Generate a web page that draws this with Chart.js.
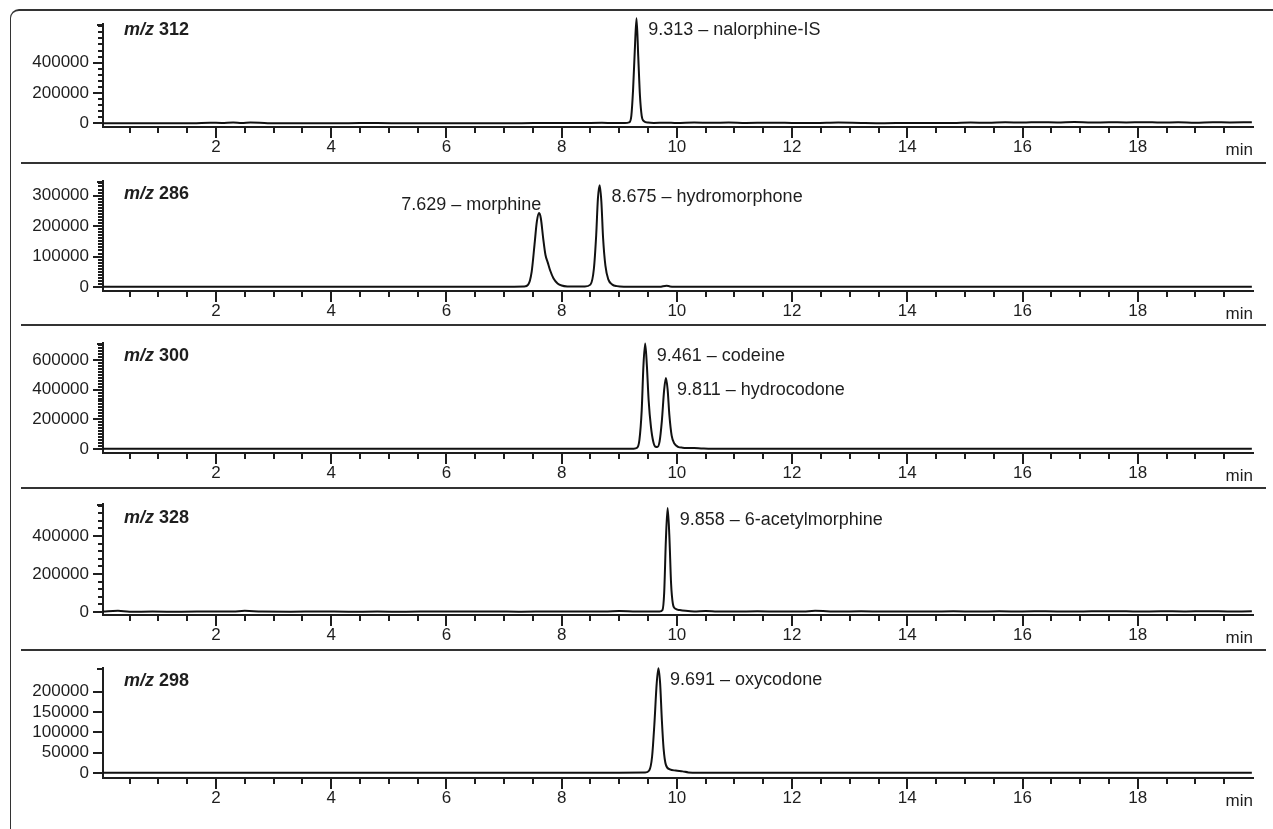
<!DOCTYPE html>
<html>
<head>
<meta charset="utf-8">
<script src="https://cdn.jsdelivr.net/npm/chart.js@4.4.0/dist/chart.umd.min.js"></script>
<style>
  body { margin: 0; background: #fff; width: 1273px; height: 829px; overflow: hidden; position: relative; }
  .frame { position: absolute; left: 10px; top: 9px; width: 1290px; height: 850px;
           border-left: 1.5px solid #333; border-top: 2px solid #333; border-top-left-radius: 9px; }
  .sep { position: absolute; left: 21px; width: 1245px; height: 2px; background: #333; }
  canvas { position: absolute; left: 0; }
</style>
</head>
<body>
<div class="frame"></div>
<div class="sep" style="top:162px"></div>
<div class="sep" style="top:324px"></div>
<div class="sep" style="top:487px"></div>
<div class="sep" style="top:649px"></div>

<script>
// retention time axis (min)
const xTicks = [2, 4, 6, 8, 10, 12, 14, 16, 18];

// m/z 312
const p1Time = [0.04, 0.4, 0.8, 1.2, 1.6, 1.9, 2.1, 2.3, 2.45, 2.6, 2.9, 3.3, 3.8, 4.3, 4.8, 5.3, 5.8, 6.3, 6.8, 7.3,
  7.8, 8.3, 8.7, 8.9, 9.1, 9.17, 9.21, 9.24, 9.27, 9.30, 9.33, 9.36, 9.39, 9.43, 9.5, 9.6, 9.8, 10.0, 10.3, 10.6,
  10.9, 11.2, 11.6, 12.0, 12.4, 12.8, 13.2, 13.6, 14.0, 14.4, 14.8, 15.1, 15.4, 15.7, 16.0, 16.3, 16.6, 16.9, 17.2, 17.5,
  17.8, 18.1, 18.4, 18.7, 19.0, 19.3, 19.6, 19.98];
const p1Signal = [1000, 1500, 800, 1200, 1000, 4000, 2500, 6000, 3000, 5500, 1500, 1000, 800, 1200, 2000, 900, 1100, 1500, 1000, 1300,
  2500, 1800, 3500, 2000, 2000, 6000, 50000, 220000, 480000, 693000, 440000, 180000, 50000, 14000, 5000, 3000, 4500, 2000, 5000, 3500,
  6000, 2500, 4000, 3000, 2000, 5500, 3000, 1500, 3000, 2000, 2500, 5000, 4000, 7000, 5500, 8000, 6000, 8500, 5000, 7500,
  6000, 8000, 5000, 7500, 4500, 8000, 6000, 7000];
const p1Ticks = [0, 200000, 400000];
const p1PeakRt = [9.313];
const p1PeakName = ['nalorphine-IS'];

// m/z 286
const p2Time = [0.04, 0.6, 1.2, 1.8, 2.4, 3.0, 3.6, 4.2, 4.8, 5.4, 6.0, 6.6, 7.0, 7.35, 7.42, 7.48, 7.53, 7.57, 7.61, 7.64,
  7.68, 7.72, 7.76, 7.80, 7.86, 7.93, 8.00, 8.10, 8.25, 8.40, 8.50, 8.56, 8.60, 8.63, 8.66, 8.69, 8.72, 8.76, 8.81, 8.88,
  8.96, 9.10, 9.40, 9.70, 9.82, 9.88, 9.95, 10.2, 10.8, 11.4, 12.0, 12.6, 13.2, 13.8, 14.4, 15.0, 15.6, 16.2, 16.8, 17.4,
  18.0, 18.6, 19.2, 19.98];
const p2Signal = [800, 600, 900, 700, 800, 600, 700, 900, 600, 800, 700, 900, 1000, 2000, 8000, 50000, 140000, 215000, 243000, 225000,
  160000, 105000, 80000, 55000, 28000, 12000, 5000, 2000, 1500, 2000, 8000, 60000, 170000, 290000, 334000, 280000, 160000, 70000, 25000, 8000,
  3000, 1200, 800, 1000, 4500, 2000, 900, 700, 800, 600, 900, 700, 800, 600, 700, 900, 700, 800, 600, 900,
  700, 800, 700, 800];
const p2Ticks = [0, 100000, 200000, 300000];
const p2PeakRt = [7.629, 8.675];
const p2PeakName = ['morphine', 'hydromorphone'];

// m/z 300
const p3Time = [0.04, 0.7, 1.4, 2.1, 2.8, 3.5, 4.2, 4.9, 5.6, 6.3, 7.0, 7.7, 8.4, 9.0, 9.25, 9.31, 9.35, 9.39, 9.42, 9.45,
  9.48, 9.51, 9.55, 9.59, 9.63, 9.66, 9.70, 9.74, 9.78, 9.81, 9.84, 9.87, 9.91, 9.96, 10.02, 10.10, 10.20, 10.30, 10.45, 10.60,
  11.0, 11.7, 12.4, 13.1, 13.8, 14.5, 15.2, 15.9, 16.6, 17.3, 18.0, 18.7, 19.4, 19.98];
const p3Signal = [1000, 800, 1200, 900, 1000, 800, 1100, 900, 1000, 800, 1000, 900, 1100, 1200, 2000, 8000, 60000, 260000, 560000, 710000,
  560000, 330000, 150000, 50000, 15000, 14000, 50000, 190000, 400000, 478000, 400000, 230000, 90000, 35000, 15000, 9000, 7000, 6000, 3000, 1200,
  1000, 900, 1100, 800, 1000, 900, 1000, 800, 1100, 900, 1000, 800, 1000, 900];
const p3Ticks = [0, 200000, 400000, 600000];
const p3PeakRt = [9.461, 9.811];
const p3PeakName = ['codeine', 'hydrocodone'];

// m/z 328
const p4Time = [0.04, 0.3, 0.5, 0.9, 1.4, 1.9, 2.3, 2.5, 2.8, 3.3, 3.8, 4.3, 4.8, 5.3, 5.8, 6.3, 6.8, 7.3, 7.8, 8.3,
  8.8, 9.0, 9.3, 9.55, 9.70, 9.75, 9.78, 9.81, 9.84, 9.87, 9.90, 9.93, 9.97, 10.05, 10.15, 10.3, 10.5, 10.7, 11.0, 11.4,
  11.8, 12.2, 12.4, 12.8, 13.2, 13.6, 14.0, 14.4, 14.8, 15.2, 15.6, 16.0, 16.4, 16.8, 17.2, 17.6, 18.0, 18.4, 18.8, 19.2,
  19.6, 19.98];
const p4Signal = [2000, 6000, 1500, 2000, 1500, 2500, 3000, 6000, 2000, 1500, 2500, 1500, 2000, 1500, 2500, 2000, 3000, 1500, 2500, 2000,
  3000, 5000, 2000, 2500, 3000, 10000, 100000, 380000, 547000, 400000, 150000, 45000, 18000, 10000, 6000, 3000, 5500, 3000, 2500, 3500,
  2000, 3000, 6000, 2500, 3500, 2000, 3000, 2500, 4000, 2000, 3500, 3000, 4000, 2500, 3500, 4500, 2500, 4000, 3000, 4500,
  3000, 3500];
const p4Ticks = [0, 200000, 400000];
const p4PeakRt = [9.858];
const p4PeakName = ['6-acetylmorphine'];

// m/z 298
const p5Time = [0.04, 1.0, 2.0, 3.0, 4.0, 5.0, 6.0, 7.0, 8.0, 9.0, 9.45, 9.52, 9.57, 9.61, 9.65, 9.68, 9.71, 9.74, 9.77, 9.81,
  9.88, 9.98, 10.10, 10.20, 10.40, 11.0, 12.0, 13.0, 14.0, 15.0, 16.0, 17.0, 18.0, 19.0, 19.98];
const p5Signal = [500, 400, 500, 450, 500, 400, 500, 450, 500, 600, 1000, 6000, 40000, 120000, 220000, 258000, 220000, 130000, 60000, 20000,
  9000, 6000, 4000, 1500, 700, 500, 450, 500, 400, 500, 450, 500, 400, 500, 450];
const p5Ticks = [0, 50000, 100000, 150000, 200000];
const p5PeakRt = [9.691];
const p5PeakName = ['oxycodone'];

const ink = '#1e1e1e';
const fontFamily = '"Liberation Sans", Arial, sans-serif';
Chart.defaults.font.family = fontFamily;
Chart.defaults.color = ink;

// top/axis are pixel rows of the y-axis top and the time axis line
const panels = [
  { mz: '312', time: p1Time, signal: p1Signal, yTicks: p1Ticks, rt: p1PeakRt, names: p1PeakName, align: ['left'],
    min: -24000, max: 655000, minor: 40000, top: 24, axis: 127 },
  { mz: '286', time: p2Time, signal: p2Signal, yTicks: p2Ticks, rt: p2PeakRt, names: p2PeakName, align: ['right', 'left'],
    min: -13000, max: 348000, minor: 10000, top: 181, axis: 291 },
  { mz: '300', time: p3Time, signal: p3Signal, yTicks: p3Ticks, rt: p3PeakRt, names: p3PeakName, align: ['left', 'left'],
    min: -27000, max: 714000, minor: 20000, top: 343, axis: 453 },
  { mz: '328', time: p4Time, signal: p4Signal, yTicks: p4Ticks, rt: p4PeakRt, names: p4PeakName, align: ['left'],
    min: -15800, max: 568000, minor: 40000, top: 504, axis: 615 },
  { mz: '298', time: p5Time, signal: p5Signal, yTicks: p5Ticks, rt: p5PeakRt, names: p5PeakName, align: ['left'],
    min: -12300, max: 258600, minor: 0, top: 668, axis: 778 }
];

const PAD_TOP = 12;
const X_AXIS_H = 35;

function makeDecor(p) {
  return {
    id: 'decor' + p.mz,
    afterDraw(chart) {
      const { ctx, chartArea: a, scales: { x, y } } = chart;
      ctx.save();
      ctx.strokeStyle = ink;
      ctx.lineWidth = 2;
      ctx.beginPath();
      // y ticks
      if (p.minor) {
        for (let v = 0; v <= p.max; v += p.minor) {
          const py = Math.round(y.getPixelForValue(v));
          ctx.moveTo(a.left - 5, py); ctx.lineTo(a.left, py);
        }
      }
      p.yTicks.forEach(v => {
        const py = Math.round(y.getPixelForValue(v));
        ctx.moveTo(a.left - 10, py); ctx.lineTo(a.left, py);
      });
      ctx.moveTo(a.left - 6, a.top + 1); ctx.lineTo(a.left, a.top + 1);
      // x ticks
      for (let t = 0.5; t < 20; t += 0.5) {
        const px = Math.round(x.getPixelForValue(t));
        const len = xTicks.includes(t) ? 11 : 6;
        ctx.moveTo(px, a.bottom); ctx.lineTo(px, a.bottom + len);
      }
      ctx.stroke();

      ctx.fillStyle = ink;
      // unit
      ctx.font = '17px ' + fontFamily;
      ctx.textAlign = 'right';
      ctx.textBaseline = 'alphabetic';
      ctx.fillText('min', a.right, a.bottom + 28);

      // ion label
      ctx.textAlign = 'left';
      ctx.textBaseline = 'middle';
      const ly = a.bottom - 97;
      ctx.font = 'italic bold 18px ' + fontFamily;
      ctx.fillText('m/z', a.left + 21, ly);
      const w = ctx.measureText('m/z').width;
      ctx.font = 'bold 18px ' + fontFamily;
      ctx.fillText(p.mz, a.left + 21 + w + 5, ly);

      // peak labels
      ctx.font = '18px ' + fontFamily;
      p.rt.forEach((rt, i) => {
        let apex = 0;
        p.time.forEach((t, j) => { if (Math.abs(t - rt) < 0.1) apex = Math.max(apex, p.signal[j]); });
        const px = x.getPixelForValue(rt);
        const py = y.getPixelForValue(apex);
        const text = rt.toFixed(3) + ' \u2013 ' + p.names[i];
        if (p.align[i] === 'right') {
          ctx.textAlign = 'right';
          ctx.fillText(text, px + 1, py - 8);
        } else {
          ctx.textAlign = 'left';
          ctx.fillText(text, px + 11, py + 12);
        }
      });
      ctx.restore();
    }
  };
}

panels.forEach(p => {
  const canvas = document.createElement('canvas');
  const h = PAD_TOP + (p.axis - p.top) + X_AXIS_H;
  canvas.width = 1273;
  canvas.height = h;
  canvas.style.width = '1273px';
  canvas.style.height = h + 'px';
  canvas.style.top = (p.top - PAD_TOP) + 'px';
  document.body.appendChild(canvas);

  new Chart(canvas.getContext('2d'), {
    type: 'line',
    data: {
      datasets: [{
        data: p.time.map((t, i) => ({ x: t, y: p.signal[i] })),
        borderColor: '#111',
        borderWidth: 2,
        pointRadius: 0,
        fill: false,
        cubicInterpolationMode: 'monotone',
        clip: false
      }]
    },
    options: {
      responsive: false,
      animation: false,
      events: [],
      layout: { autoPadding: false, padding: { top: PAD_TOP, right: 20, bottom: 0, left: 0 } },
      plugins: { legend: { display: false }, tooltip: { enabled: false } },
      scales: {
        x: {
          type: 'linear',
          min: 0.04,
          max: 20,
          afterBuildTicks: s => { s.ticks = xTicks.map(v => ({ value: v })); },
          afterFit: s => { s.height = X_AXIS_H; s.paddingLeft = 0; s.paddingRight = 0; },
          grid: { display: false, drawTicks: false },
          border: { display: true, color: ink, width: 2 },
          ticks: { font: { size: 17 }, color: ink, padding: 10, maxRotation: 0, autoSkip: false,
                   callback: v => String(v) }
        },
        y: {
          type: 'linear',
          min: p.min,
          max: p.max,
          afterBuildTicks: s => { s.ticks = p.yTicks.map(v => ({ value: v })); },
          afterFit: s => { s.width = 103; s.paddingTop = 0; s.paddingBottom = 0; },
          grid: { display: false, drawTicks: false },
          border: { display: true, color: ink, width: 2 },
          ticks: { font: { size: 17 }, color: ink, padding: 14, autoSkip: false,
                   callback: v => String(v) }
        }
      }
    },
    plugins: [makeDecor(p)]
  });
});
</script>
</body>
</html>
